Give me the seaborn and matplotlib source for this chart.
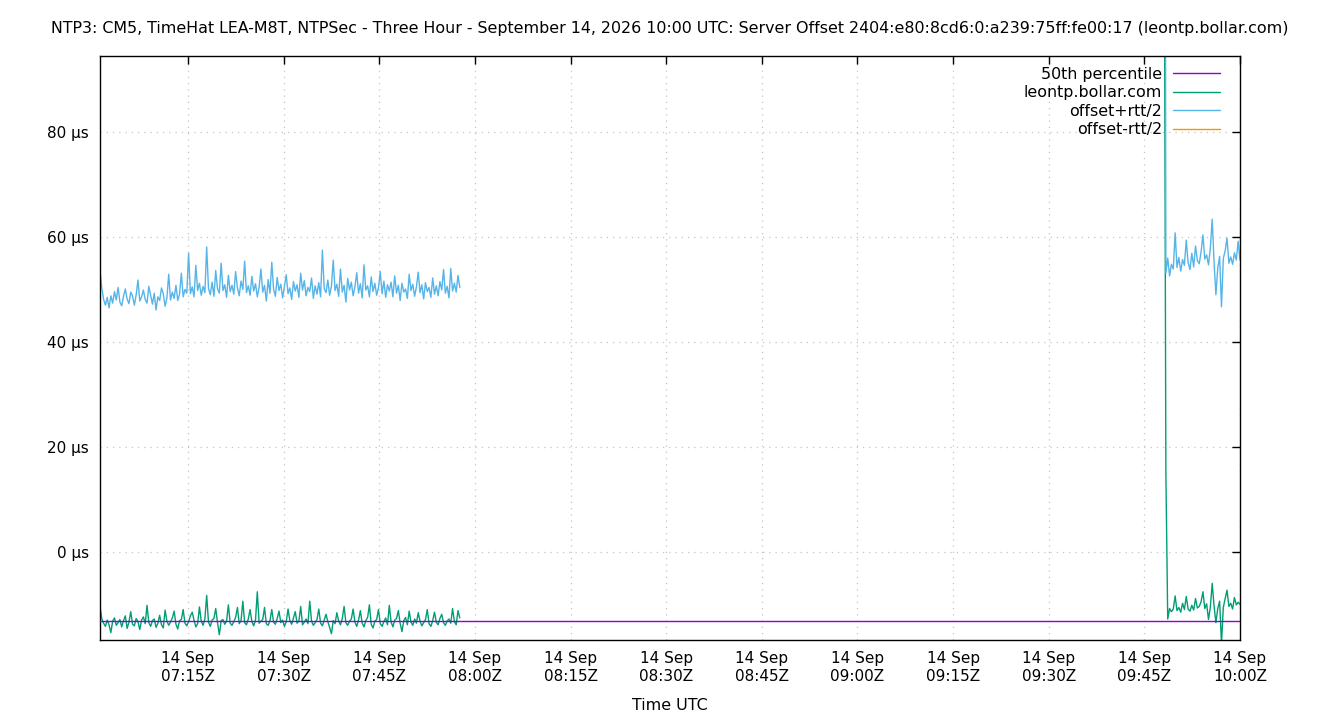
import numpy as np
import pandas as pd
import matplotlib
matplotlib.use("Agg")
import matplotlib.pyplot as plt
import matplotlib.dates as mdates
from matplotlib.ticker import FuncFormatter
import seaborn as sns

title = ("NTP3: CM5, TimeHat LEA-M8T, NTPSec - Three Hour - September 14, 2026 10:00 UTC: "
         "Server Offset 2404:e80:8cd6:0:a239:75ff:fe00:17 (leontp.bollar.com)")
x_label = "Time UTC"
series_names = ["50th percentile", "leontp.bollar.com", "offset+rtt/2", "offset-rtt/2"]
series_colors = ["#9400d3", "#009e73", "#56b4e9", "#e69f00"]
percentile_50 = -13.1
seg1_start, seg1_end = "2026-09-14 07:01:12", "2026-09-14 07:57:38"
seg2_start, seg2_end = "2026-09-14 09:48:05", "2026-09-14 10:00:00"
y_ticks = [0, 20, 40, 60, 80]
y_limits = (-16.8, 94.5)

# leontp.bollar.com offset (µs), first segment
offset_seg1 = [
    -10.5, -12.8, -13.6, -14.2, -13.0, -13.9, -15.4, -13.2, -12.6, -14.0, -13.5, -12.9, -14.3, -13.1, -12.2, -14.6, -13.4, -11.4, -13.8, -14.1,
    -12.7, -13.3, -14.8, -13.0, -12.4, -13.7, -10.2, -13.5, -14.2, -13.1, -12.8, -14.4, -13.6, -12.1, -13.9, -14.5, -11.1, -13.2, -14.0, -13.4,
    -12.6, -11.3, -13.8, -14.7, -13.1, -12.9, -11.0, -13.6, -14.1, -13.3, -12.2, -11.5, -13.0, -14.3, -13.7, -10.5, -13.2, -14.0, -12.8, -8.3,
    -13.4, -14.2, -13.0, -12.7, -10.8, -13.5, -15.8, -13.1, -12.9, -13.8, -13.2, -10.1, -13.6, -14.0, -13.3, -12.5, -10.6, -13.7, -13.1, -9.4,
    -13.5, -13.9, -12.8, -11.0, -13.3, -14.1, -13.0, -7.6, -13.6, -13.2, -12.9, -10.6, -13.7, -14.0, -13.1, -11.0, -13.4, -13.8, -12.7, -11.3,
    -13.5, -13.0, -14.2, -13.3, -10.9, -13.1, -13.8, -12.6, -11.4, -13.6, -13.2, -10.4, -13.9, -13.4, -12.8, -13.7, -9.4, -13.2, -14.0, -13.5,
    -12.9, -10.9, -13.6, -14.1, -13.0, -11.9, -13.3, -14.4, -15.6, -13.1, -13.7, -11.6, -13.2, -13.9, -12.7, -10.4, -13.5, -14.0, -13.2, -12.8,
    -10.9, -13.4, -14.2, -13.0, -11.2, -13.6, -14.3, -13.1, -12.5, -10.1, -13.8, -14.5, -13.2, -12.9, -11.0, -13.7, -14.2, -13.3, -12.6, -13.9,
    -10.2, -13.4, -14.3, -13.0, -12.7, -11.2, -13.6, -15.2, -13.1, -12.5, -13.9, -11.3, -13.4, -14.0, -12.8, -13.6, -11.6, -13.2, -14.1, -13.5,
    -12.9, -11.0, -13.7, -14.2, -13.1, -11.5, -13.4, -13.9, -12.7, -11.9, -13.5, -14.0, -13.2, -12.8, -13.6, -10.8, -13.3, -13.9, -11.2, -12.6,
]
# offset+rtt/2 (µs), first segment
plus_seg1 = [
    53.6, 50.2, 48.1, 47.0, 48.5, 46.5, 48.8, 47.4, 49.6, 48.0, 50.4, 47.6, 46.9, 48.7, 50.1, 48.2, 47.3, 49.5, 48.8, 47.0,
    49.0, 51.8, 47.8, 48.6, 49.9, 48.1, 47.4, 50.6, 48.9, 47.2, 49.3, 46.1, 48.6, 47.9, 50.3, 49.2, 46.8, 48.4, 52.9, 48.0,
    49.5, 48.3, 50.8, 47.9, 49.1, 53.1, 48.6, 50.0, 49.3, 56.9, 49.2, 50.5, 48.6, 54.6, 49.8, 51.2, 48.9, 50.6, 49.4, 58.1,
    50.2, 49.0, 51.4, 48.7, 53.6, 50.1, 49.3, 55.0, 49.8, 50.9, 48.5, 52.7, 49.6, 50.8, 49.1, 53.4, 50.3, 48.8, 51.6, 50.0,
    55.4, 49.4, 50.7, 48.9, 52.5, 49.7, 51.1, 48.6, 50.4, 53.9, 49.5, 50.8, 47.8, 51.9, 49.3, 55.2, 50.1, 48.7, 52.3, 49.8,
    51.0, 48.4, 50.6, 52.8, 49.2, 50.3, 48.1, 51.5, 49.7, 50.9, 48.5, 53.1, 49.9, 51.7, 48.8, 50.4, 49.6, 52.2, 48.3, 50.7,
    49.1, 51.3, 48.6, 57.5, 50.2, 49.4, 51.8, 48.9, 50.6, 55.6, 49.8, 51.0, 48.7, 53.9, 49.5, 50.8, 47.6, 52.1, 49.9, 51.4,
    48.8, 50.5, 53.2, 49.3, 51.1, 48.4, 54.7, 49.9, 50.7, 48.6, 52.4, 49.6, 51.2, 48.9, 50.3, 53.4, 49.2, 51.6, 48.5, 50.9,
    49.7, 51.4, 48.6, 52.6, 49.3, 50.8, 47.9, 51.2, 49.5, 50.1, 48.3, 52.9, 49.8, 51.0, 48.7, 50.5, 53.3, 49.4, 50.9, 48.2,
    51.3, 49.6, 50.4, 48.5, 52.2, 49.1, 50.7, 48.8, 51.5, 49.9, 53.8, 49.3, 50.6, 48.4, 54.0, 49.7, 51.2, 49.5, 52.7, 50.4,
]
# leontp.bollar.com offset (µs), second segment
offset_seg2 = [
    140.0, 15.0, -12.8, -10.8, -11.4, -10.9, -8.4, -11.2, -10.6, -11.5, -9.8, -11.0, -8.5, -10.9, -11.3, -10.2, -11.1, -8.9, -10.7, -10.4,
    -9.5, -7.6, -10.8, -9.9, -12.9, -10.5, -6.0, -10.3, -13.5, -10.8, -9.4, -17.5, -10.6, -8.9, -7.3, -10.4, -9.8, -10.9, -8.7, -10.1,
    -9.6, -10.0,
]
# offset+rtt/2 (µs), second segment
plus_seg2 = [
    300.0, 53.1, 56.0, 52.6, 54.8, 53.9, 60.8, 54.2, 56.1, 53.5, 55.7, 54.6, 59.4, 55.1, 53.8, 56.9, 54.3, 58.3, 55.5, 54.9,
    57.2, 60.4, 55.8, 56.6, 54.7, 57.9, 63.4, 55.2, 49.0, 54.1, 56.3, 46.7, 55.9, 57.4, 59.8, 55.0, 56.2, 54.8, 57.0, 55.6,
    59.2, 55.6,
]

frames = []
for seg_id, (start, end, off, plus) in enumerate(
        [(seg1_start, seg1_end, offset_seg1, plus_seg1),
         (seg2_start, seg2_end, offset_seg2, plus_seg2)], start=1):
    t = pd.date_range(start, end, periods=len(off))
    off = np.asarray(off)
    plus = np.asarray(plus)
    minus = off - (plus - off)
    for name, vals in zip(series_names[1:], [off, plus, minus]):
        frames.append(pd.DataFrame({"time": t, "value": vals, "series": name, "seg": seg_id}))
frames.append(pd.DataFrame({"time": pd.to_datetime([seg1_start, seg2_end]),
                            "value": [percentile_50, percentile_50],
                            "series": series_names[0], "seg": 0}))
df = pd.concat(frames, ignore_index=True)

sns.set_theme(style="white")
plt.rcParams["font.family"] = ["DejaVu Sans"]
plt.rcParams["text.color"] = "black"

fig = plt.figure(figsize=(13.4, 7.2), dpi=100)
ax = fig.add_axes([100 / 1340, 80 / 720, 1140 / 1340, 584 / 720])

palette = dict(zip(series_names, series_colors))
sns.lineplot(data=df, x="time", y="value", hue="series", units="seg", estimator=None,
             hue_order=series_names, palette=palette, linewidth=1.0, sort=False, ax=ax)

z_by_color = {series_colors[0]: 5, series_colors[1]: 2.1, series_colors[2]: 2.2, series_colors[3]: 2.3}
for ln in ax.lines:
    c = matplotlib.colors.to_hex(ln.get_color())
    if c in z_by_color:
        ln.set_zorder(z_by_color[c])

handles, labels = ax.get_legend_handles_labels()
ax.legend(handles, labels, loc="upper right", bbox_to_anchor=(1 - 20 / 1140, 1 - 11 / 584),
          frameon=False, markerfirst=False, prop={"family": "DejaVu Sans", "size": 11.4},
          labelspacing=0.22, handlelength=3.0, handletextpad=0.65, borderaxespad=0, borderpad=0,
          labelcolor="black")

ax.set_xlim(pd.Timestamp(seg1_start), pd.Timestamp(seg2_end))
ax.set_ylim(*y_limits)
ax.set_yticks(y_ticks)
ax.yaxis.set_major_formatter(FuncFormatter(lambda v, p: f"{v:g} µs"))
ax.xaxis.set_major_locator(mdates.MinuteLocator(byminute=[0, 15, 30, 45]))
ax.xaxis.set_major_formatter(mdates.DateFormatter("%d %b\n%H:%MZ"))
ax.set_xlabel("")
ax.set_ylabel("")

ax.grid(True, color="#c4c4c4", linestyle=(0, (1, 4)), linewidth=0.9)
ax.set_axisbelow(True)
ax.tick_params(direction="in", length=6, width=1, top=True, right=True,
               labelsize=11, colors="black", pad=8)
for sp in ax.spines.values():
    sp.set_color("black")
    sp.set_linewidth(1.0)
    sp.set_visible(True)

fig.text(0.5, 1 - 29 / 720, title, ha="center", va="center", fontsize=11.4,
         family="DejaVu Sans", color="black")
fig.text(670 / 1340, 1 - 706 / 720, x_label, ha="center", va="center", fontsize=11.4,
         family="DejaVu Sans", color="black")

fig.savefig("out.png", dpi=100)
